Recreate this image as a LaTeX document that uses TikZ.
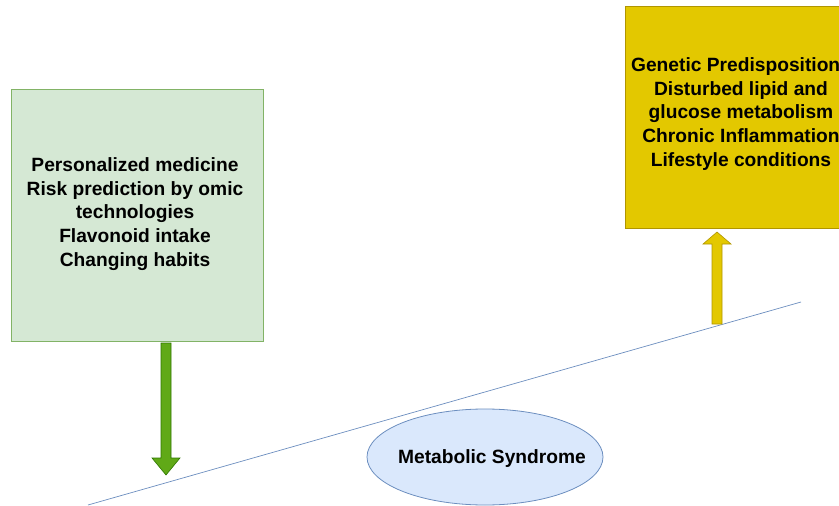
\documentclass[tikz,border=0pt]{standalone}
\usepackage{fontspec}
\setmainfont{Liberation Sans}
\usetikzlibrary{shapes.geometric}
\definecolor{gfill}{HTML}{D5E8D4}
\definecolor{gline}{HTML}{82B366}
\definecolor{yfill}{HTML}{E3C800}
\definecolor{yline}{HTML}{B09500}
\definecolor{bfill}{HTML}{DAE8FC}
\definecolor{bline}{HTML}{6C8EBF}
\definecolor{afill}{HTML}{60A917}
\definecolor{aline}{HTML}{2D7600}
\tikzset{
  txt/.style={font=\bfseries\fontsize{19.2}{23.8}\selectfont, align=center, text=black},
}
\begin{document}
\begin{tikzpicture}[x=1pt,y=-1pt]
\useasboundingbox (0,0) rectangle (839,506);
\clip (0,0) rectangle (839,506);
% green box
\draw[gline, fill=gfill, line width=0.8pt] (11,89) rectangle (263,341);
\node[txt] (left) at (135,214) {Personalized medicine\\Risk prediction by omic\\technologies\\Flavonoid intake\\Changing habits};
% yellow box
\draw[yline, fill=yfill, line width=0.8pt] (625,6) rectangle (862,228);
\node[txt] (right) at (741,114) {Genetic Predispositions\\Disturbed lipid and\\glucose metabolism\\Chronic Inflammation\\Lifestyle conditions};
% slope line
\draw[bline, line width=0.7pt] (88,505) -- (801,302);
% ellipse
\node[ellipse, draw=bline, fill=bfill, line width=0.8pt, minimum width=236pt, minimum height=96pt, inner sep=0pt] (ms) at (485,457) {};
\node[font=\bfseries\fontsize{19.2}{22}\selectfont] (mst) at (492,459) {Metabolic Syndrome};
% green arrow
\draw[aline, fill=afill, line width=0.6pt] (161,343) -- (171,343) -- (171,458) -- (180,458) -- (166,475) -- (152,458) -- (161,458) -- cycle;
% yellow arrow
\draw[yline, fill=yfill, line width=0.6pt] (712,324) -- (722,324) -- (722,244) -- (731,244) -- (717,232) -- (703,244) -- (712,244) -- cycle;
\end{tikzpicture}
\end{document}
